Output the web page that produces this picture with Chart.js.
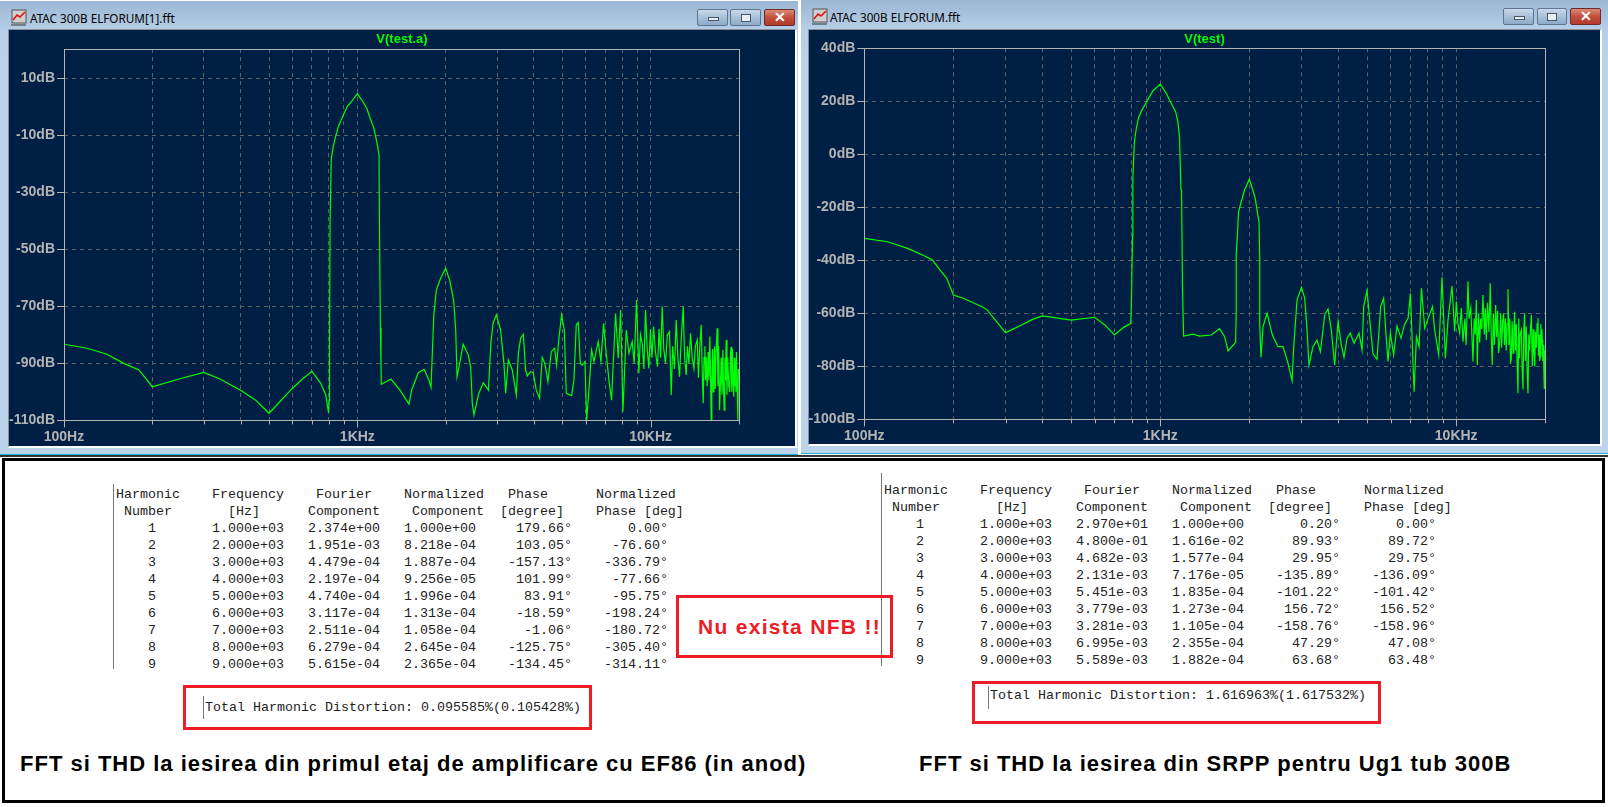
<!DOCTYPE html>
<html lang="ro">
<head>
  <meta charset="UTF-8">
  <title>FFT si THD</title>
  <script src="https://cdn.jsdelivr.net/npm/chart.js"></script>
  <style>
    html, body { margin: 0; padding: 0; background: #fff; overflow: hidden; }
    #page { position: relative; width: 1608px; height: 807px; overflow: hidden; background: #fff; }
    .win { position: absolute; box-sizing: border-box; background: linear-gradient(#9cb7d3 0, #b5cde6 28px, #bcd3ec 60px); }
    .win .base { position: absolute; left: 0; right: 0; bottom: 0; height: 1px; background: #18b4d0; }
    .win .cap { position: absolute; top: 9px; font: 11.7px "Noto Sans", sans-serif; color: #000; white-space: nowrap; line-height: 16px; }
    .win svg { position: absolute; top: 8px; left: 10px; }
    .plotbox { position: absolute; box-sizing: content-box; background: #001f45; border-top: 1px solid #8a8f96; border-left: 1px solid #8a8f96; border-right: 2px solid #fff; border-bottom: 2px solid #fff; }
    canvas { display: block; }
    .btn { position: absolute; height: 17px; box-sizing: border-box; border: 1px solid #5d7590; border-radius: 2px; background: linear-gradient(#c9d9ea, #a9c0d8 50%, #8fabc8); }
    .btn i { position: absolute; left: 50%; top: 50%; box-sizing: border-box; background: #e8eef4; border: 1px solid #46566a; }
    .btn.x { background: linear-gradient(#d98a78, #c2503c 50%, #b23a2a); border-color: #6e2a2a; color: #fff; font: bold 14px/15px "Liberation Sans", sans-serif; text-align: center; }
    #panel { position: absolute; left: 2px; top: 458px; width: 1603px; height: 345px; box-sizing: border-box; border: 3px solid #000; background: #fff; }
    .gap { position: absolute; left: 0; top: 455px; width: 1608px; height: 2px; background: #333; }
    .tbl { position: absolute; margin: 0; font: 13.33px/17px "Liberation Mono", monospace; color: #222; white-space: pre; }
    .vr { position: absolute; width: 1px; background: #777; }
    .red { position: absolute; box-sizing: border-box; border: 3px solid #ee1c25; }
    .cap2 { position: absolute; font: bold 22px/26px "Liberation Sans", sans-serif; letter-spacing: 1px; color: #000; white-space: nowrap; }
    #nfb { position: absolute; left: 698px; top: 614px; font: bold 21px/26px "Liberation Sans", sans-serif; letter-spacing: 1.3px; color: #ee1c25; white-space: nowrap; }
  </style>
</head>
<body>
<div id="page">
  <div class="gap"></div>
  <div class="win" style="left:0;top:1px;width:798px;height:454px">
    <svg width="17" height="17"><rect x="2" y="1" width="14" height="13" fill="#cfcfcf" stroke="#555"/><path d="M3 11 L7 6 L10 8 L15 3" fill="none" stroke="#e01010" stroke-width="1.6"/><path d="M1 16 H16" stroke="#333"/></svg>
    <div class="cap" style="left:30px">ATAC 300B ELFORUM[1].fft</div>
    <div class="btn" style="left:697px;top:8px;width:31px"><i style="width:11px;height:4px;margin:-1px 0 0 -5px"></i></div>
    <div class="btn" style="left:730px;top:8px;width:31px"><i style="width:10px;height:8px;margin:-4px 0 0 -5px"></i></div>
    <div class="btn x" style="left:764px;top:8px;width:31px">✕</div>
    <div class="plotbox" style="left:8px;top:28px;width:786px;height:416px"><canvas id="chartA" width="786" height="416"></canvas></div>
    <div class="base"></div>
  </div>
  <div class="win" style="left:801px;top:0;width:807px;height:454px">
    <svg width="17" height="17"><rect x="2" y="1" width="14" height="13" fill="#cfcfcf" stroke="#555"/><path d="M3 11 L7 6 L10 8 L15 3" fill="none" stroke="#e01010" stroke-width="1.6"/><path d="M1 16 H16" stroke="#333"/></svg>
    <div class="cap" style="left:29px">ATAC 300B ELFORUM.fft</div>
    <div class="btn" style="left:702px;top:8px;width:31px"><i style="width:11px;height:4px;margin:-1px 0 0 -5px"></i></div>
    <div class="btn" style="left:736px;top:8px;width:30px"><i style="width:10px;height:8px;margin:-4px 0 0 -5px"></i></div>
    <div class="btn x" style="left:769px;top:8px;width:31px">✕</div>
    <div class="plotbox" style="left:7px;top:29px;width:791px;height:414px"><canvas id="chartB" width="791" height="414"></canvas></div>
    <div class="base"></div>
  </div>

  <div id="panel"></div>
  <div class="vr" style="left:113px;top:484px;height:185px"></div>
  <pre class="tbl" id="tableA" style="left:116px;top:486px"></pre>
  <div class="vr" style="left:881px;top:473px;height:193px"></div>
  <pre class="tbl" id="tableB" style="left:884px;top:482px"></pre>

  <div class="red" style="left:183px;top:685px;width:409px;height:45px"></div>
  <div class="vr" style="left:203px;top:696px;height:23px"></div>
  <pre class="tbl" id="thdA" style="left:205px;top:699px"></pre>
  <div class="red" style="left:972px;top:681px;width:409px;height:43px"></div>
  <div class="vr" style="left:988px;top:686px;height:23px"></div>
  <pre class="tbl" id="thdB" style="left:990px;top:687px"></pre>

  <div class="red" style="left:676px;top:595px;width:217px;height:63px"></div>
  <div id="nfb">Nu exista NFB !!</div>

  <div class="cap2" style="left:20px;top:751px">FFT si THD la iesirea din primul etaj de amplificare cu EF86 (in anod)</div>
  <div class="cap2" style="left:919px;top:751px">FFT si THD la iesirea din SRPP pentru Ug1 tub 300B</div>
</div>

<script>
  // valori citite de pe grafice (frecventa in Hz, nivel in dB)
  const titleA = 'V(test.a)';
  const freqA = [100,120,140,160,180,190,200,250,300,340,400,450,500,600,650,700,750,780,798,
    801,804,807,815,824,833,846,861,896,925,956,1000,1035,1076,1105,1134,1155,1173,1185,1189,1198,1204,1207,
    1302,1397,1500,1531,1614,1689,1754,1783,1802,1824,1859,1923,2000,2064,2130,2164,2187,2233,2294,2390,2434,2465,2497,2595,2688,2798,2851,2901,2977,
    3079,3160,3203,3271,3374,3483,3538,3603,3679,3746,3795,3895,3978,4072,4180,4268,4358,4463,4582,4703,4778,4866,4969,
    5075,5155,5376,5475,5576,5665,5754,5845,5969,6048,6158,6289,6405,6626,6766,6909,7018,7204,7355,7592,7752,7896,
    8042,8254,8428,8649,8786,8948,9113,9230,9355,9480,9603,9730,9859,9980,10100,10225,10380,10551,10680,10810,10945,11080,11232,11400,11590,11752,
    11880,12050,12216,12380,12541,12700,12907,13050,13213,13340,13500,13672,13850,14036,14200,14408,14550,14700,14868,14980,15103,15200,15300,15380,15460,15580,15700,15800,15911,16000,
    16080,16160,16250,16330,16421,16500,16600,16700,16852,16950,17050,17166,17300,17400,17500,17616,17700,17800,17900,18000,18082,18200,18300,18465,18600,18700,18800,18900,19000,19100,
    19200,19300,19380,19460,19530,19600,19700,19820,19900,20000];
  const dbA = [-83.3,-84.7,-86.8,-90,-92.3,-95.3,-98.2,-95.3,-93.2,-95.5,-99.4,-102.9,-107.5,-98.8,-95.5,-92.8,-97,-101,-107.5,
    -103,-85,-41.5,-18.3,-15.1,-12.8,-9.9,-7,-2.9,0.1,1.8,4.5,2.4,-0.5,-4,-7,-10.5,-14,-16.9,-38.3,-77.5,-90,-97.3,
    -95.5,-99.4,-104.3,-99.4,-93.3,-92.1,-95.8,-98.4,-85.9,-72.5,-64.3,-60.2,-56.7,-60.8,-67.8,-78.3,-94.7,-90,-83.3,-87.1,-91.2,-104,-108.1,-100.5,-96.8,-99.4,-83,-76,-73,
    -78.3,-90,-100.5,-88.8,-92.3,-101.1,-86.5,-81.2,-79.8,-92.3,-94.4,-92.9,-93.3,-99.4,-102.3,-87.9,-90,-96.4,-85.9,-84.7,-90.6,-81.2,-73,
    -78.3,-100.5,-101.3,-95.8,-76.5,-75.7,-90,-90.6,-89.4,-109.9,-99.4,-85.3,-89.4,-82.4,-89.4,-76,-84.2,-95.8,-102.9,-72.5,-88.2,-71.3,
    -107,-78.3,-86.5,-82.4,-90,-67.8,-93.5,-80,-83,-92,-71.3,-85,-91.8,-78,-88,-77.1,-86,-91.2,-78,-88,-70.1,-85,-90,-80,-78.9,-101.1,
    -84,-92,-74.8,-88,-94.7,-82,-70.1,-88,-94.1,-84,-90,-79.5,-88,-91.8,-84,-81.8,-95,-84,-76.5,-92,-104,-88,-84,-96,-87.7,-98,-86,-96,-80.6,-95,
    -109.9,-96,-85,-100,-90,-84,-99,-86,-77.7,-98,-84,-106.4,-96,-88,-101,-85.3,-96,-106.4,-88,-96,-81.8,-101,-88,-98.2,-100,-87,-84.2,-100,-85,-97,
    -101.7,-88,-98,-90,-100,-86,-96,-109.9,-92,-95];

  const titleB = 'V(test)';
  const freqB = [100,120,140,160,170,180,190,200,216,250,260,280,300,340,370,400,500,600,650,700,750,795,
    800,806,808,817,823,832,845,865,885,916,944,1000,1048,1081,1127,1147,1162,1174,1180,1189,1199,
    1293,1358,1488,1586,1650,1695,1797,1806,1806,1822,1839,1878,1927,2000,2045,2094,2132,2156,2168,2168,2190,2225,2295,2392,2499,2599,2703,2789,2825,2898,3000,3076,3133,3181,3281,3385,3476,3595,3689,3785,3884,3988,
    4091,4177,4276,4387,4515,4695,4806,4869,4996,5127,5235,5400,5556,5687,5777,5882,5990,6147,6309,6508,6680,6876,7003,7206,7338,7492,7630,7830,8037,8318,8456,8725,8955,9190,9383,9679,9881,
    10010,10140,10275,10400,10544,10700,10800,10961,11050,11200,11394,11500,11600,11694,11785,11900,12000,12100,12200,12313,12450,12540,12638,12760,12900,13033,13130,13240,13350,13460,
    13589,13700,13800,13900,14020,14130,14240,14350,14460,14560,14660,14760,14860,14960,15070,15170,15260,15350,15450,15560,15660,15760,15860,15960,16060,16170,16270,16350,16450,16600,
    16700,16810,16920,17030,17130,17250,17360,17480,17590,17700,17820,17950,18070,18200,18310,18420,18530,18650,18770,18890,18970,19050,19140,19230,19320,19400,19470,19540,19620,19700,
    19780,19840,19920,20000];
  const dbB = [-31.7,-33,-35.5,-38.4,-39.9,-43.6,-46.8,-53.1,-54.3,-57.5,-58.7,-63.1,-67.3,-64.4,-62.3,-61,-62.6,-61.5,-64.4,-68.2,-65.4,-63.8,
    -52.5,-30.8,-9,3.9,7,10.4,13.8,16.5,18.4,21.4,23.9,26.5,23,19.9,16.1,12.3,6.3,-13.2,-13.5,-50.3,-68.6,
    -67.9,-68.6,-68.2,-65.8,-68.8,-74.2,-71,-60,-37.4,-31,-21.6,-17.9,-13.5,-9.4,-12.8,-16.6,-22.3,-25.4,-39.2,-63.8,-76.6,-65,-60,-68.2,-72.6,-72.6,-78.9,-85.4,-72.6,-55,-50.2,-54.3,-66.3,-79.5,-72.6,-70.1,-74.5,-60.6,-58.4,-66.3,-79.5,-63.1,
    -72,-76.6,-69.4,-67.5,-71.3,-67.5,-73.8,-57.5,-51.4,-65,-75.3,-77.4,-57.5,-54.3,-66.3,-78.2,-67.5,-75.7,-64.8,-69.4,-64.4,-61.9,-52.5,-89.6,-68.8,-72.6,-50.6,-65.7,-61.9,-57.5,-66.3,-75.7,-46.4,-77,-62.5,-49.7,-66.9,
    -55.6,-64,-67.5,-58,-70.7,-62,-72,-48,-62,-58,-78.2,-62,-68,-55,-79.5,-60,-71,-62,-66,-53.1,-68,-58,-70.1,-56,-67,-48.7,-68,-79.5,-60,-72,
    -56.9,-69,-59,-75,-71.3,-60,-73,-63,-60,-72,-62,-74,-64,-50.9,-72,-62,-79,-77,-63,-75,-66,-59.4,-74,-64,-78,-90.2,-62,-77,-68,-66.3,
    -80,-88.7,-66,-60,-78,-65,-82,-90.2,-68,-74,-66,-60.6,-80,-66,-76,-80.1,-67,-73,-64,-61.9,-76,-68,-78,-76.4,-64,-72,-66,-70,-78,-72,
    -82,-88.3,-74,-77.6];

  // grila de frecvente, etichete si pasi
  const gridFreqs = [100,200,300,400,500,600,700,800,900,1000,2000,3000,4000,5000,6000,7000,8000,9000,10000,20000];
  const decadeFreqs = [100,1000,10000];
  const decadeLabels = ['100Hz','1KHz','10KHz'];
  const dbTicksA = [10,-10,-30,-50,-70,-90,-110];
  const dbTicksB = [40,20,0,-20,-40,-60,-80,-100];

  const harmonics = [1,2,3,4,5,6,7,8,9];
  const freqCol = ['1.000e+03','2.000e+03','3.000e+03','4.000e+03','5.000e+03','6.000e+03','7.000e+03','8.000e+03','9.000e+03'];
  const fourierA = ['2.374e+00','1.951e-03','4.479e-04','2.197e-04','4.740e-04','3.117e-04','2.511e-04','6.279e-04','5.615e-04'];
  const normA = ['1.000e+00','8.218e-04','1.887e-04','9.256e-05','1.996e-04','1.313e-04','1.058e-04','2.645e-04','2.365e-04'];
  const phaseA = ['179.66','103.05','-157.13','101.99','83.91','-18.59','-1.06','-125.75','-134.45'];
  const normPhaseA = ['0.00','-76.60','-336.79','-77.66','-95.75','-198.24','-180.72','-305.40','-314.11'];
  const fourierB = ['2.970e+01','4.800e-01','4.682e-03','2.131e-03','5.451e-03','3.779e-03','3.281e-03','6.995e-03','5.589e-03'];
  const normB = ['1.000e+00','1.616e-02','1.577e-04','7.176e-05','1.835e-04','1.273e-04','1.105e-04','2.355e-04','1.882e-04'];
  const phaseB = ['0.20','89.93','29.95','-135.89','-101.22','156.72','-158.76','47.29','63.68'];
  const normPhaseB = ['0.00','89.72','29.75','-136.09','-101.42','156.52','-158.96','47.08','63.48'];

  const axisColor = '#b4b4b4';

  // rama graficului si liniutele de pe axe
  const framePlugin = {
    id: 'frame',
    afterDraw(chart) {
      const { ctx, chartArea: a, scales } = chart;
      ctx.save();
      ctx.strokeStyle = axisColor;
      ctx.lineWidth = 1;
      ctx.strokeRect(Math.round(a.left) + 0.5, Math.round(a.top) + 0.5, Math.round(a.right - a.left), Math.round(a.bottom - a.top));
      ctx.beginPath();
      scales.x.ticks.forEach(t => {
        const x = Math.round(scales.x.getPixelForValue(t.value)) + 0.5;
        const len = decadeFreqs.includes(t.value) ? 7 : 4;
        ctx.moveTo(x, a.bottom);
        ctx.lineTo(x, a.bottom + len);
      });
      scales.y.ticks.forEach(t => {
        const y = Math.round(scales.y.getPixelForValue(t.value)) + 0.5;
        ctx.moveTo(a.left, y);
        ctx.lineTo(a.left - 7, y);
      });
      ctx.stroke();
      ctx.restore();
    }
  };

  function makeChart(id, title, freqs, dbs, yMin, yMax, dbTicks, leftW, rightW, bottomH, titleGap) {
    return new Chart(document.getElementById(id), {
      type: 'line',
      data: {
        datasets: [{
          data: freqs.map((f, i) => ({ x: f, y: dbs[i] })),
          borderColor: '#00ff00',
          borderWidth: 1.2,
          pointRadius: 0,
          tension: 0
        }]
      },
      plugins: [framePlugin],
      options: {
        responsive: false,
        animation: false,
        devicePixelRatio: 1,
        plugins: {
          legend: { display: false },
          tooltip: { enabled: false },
          title: {
            display: true,
            text: title,
            color: '#00ff00',
            font: { family: '"Liberation Sans", sans-serif', size: 13, weight: 'bold' },
            padding: { top: 2, bottom: titleGap }
          }
        },
        scales: {
          x: {
            type: 'logarithmic',
            min: 100,
            max: 20000,
            afterBuildTicks: s => { s.ticks = gridFreqs.map(v => ({ value: v })); },
            afterFit: s => { s.height = bottomH; },
            grid: { color: '#5e6163', drawTicks: false, tickLength: 0 },
            border: { display: false, dash: [4, 4] },
            ticks: {
              autoSkip: false,
              maxRotation: 0,
              padding: 8,
              color: axisColor,
              font: { family: '"Liberation Sans", sans-serif', size: 14, weight: 'bold' },
              callback: v => {
                const k = decadeFreqs.indexOf(v);
                return k >= 0 ? decadeLabels[k] : '';
              }
            }
          },
          y: {
            min: yMin,
            max: yMax,
            afterBuildTicks: s => { s.ticks = dbTicks.map(v => ({ value: v })); },
            afterFit: s => { s.width = leftW; },
            grid: { color: '#5e6163', drawTicks: false, tickLength: 0 },
            border: { display: false, dash: [4, 4] },
            ticks: {
              padding: 9,
              color: axisColor,
              font: { family: '"Liberation Sans", sans-serif', size: 14, weight: 'bold' },
              callback: v => v + 'dB'
            }
          },
          // axa goala din dreapta, doar tine locul
          spacer: {
            position: 'right',
            afterFit: s => { s.width = rightW; },
            grid: { display: false },
            border: { display: false },
            ticks: { display: false }
          }
        }
      }
    });
  }

  makeChart('chartA', titleA, freqA, dbA, -110, 20.2, dbTicksA, 55, 56, 25.6, 1.4);
  makeChart('chartB', titleB, freqB, dbB, -100, 40, dbTicksB, 55.3, 54.7, 24.7, 0.7);

  // tabelele cu armonici, aliniate pe coloane ca in fisierul text
  function buildTable(fourier, norm, phase, normPhase) {
    const lines = [
      'Harmonic'.padEnd(12) + 'Frequency'.padEnd(13) + 'Fourier'.padEnd(11) + 'Normalized'.padEnd(13) + 'Phase'.padEnd(11) + 'Normalized',
      ' Number'.padEnd(14) + '[Hz]'.padEnd(10) + 'Component'.padEnd(13) + 'Component'.padEnd(11) + '[degree]'.padEnd(12) + 'Phase [deg]'
    ];
    harmonics.forEach((h, i) => {
      lines.push(
        String(h).padStart(5).padEnd(12) + freqCol[i].padEnd(12) + fourier[i].padEnd(12) + norm[i].padEnd(12) +
        (phase[i] + '°').padStart(9) + (normPhase[i] + '°').padStart(12)
      );
    });
    return lines.join('\n');
  }
  document.getElementById('tableA').textContent = buildTable(fourierA, normA, phaseA, normPhaseA);
  document.getElementById('tableB').textContent = buildTable(fourierB, normB, phaseB, normPhaseB);
  document.getElementById('thdA').textContent = 'Total Harmonic Distortion: 0.095585%(0.105428%)';
  document.getElementById('thdB').textContent = 'Total Harmonic Distortion: 1.616963%(1.617532%)';
</script>
</body>
</html>
